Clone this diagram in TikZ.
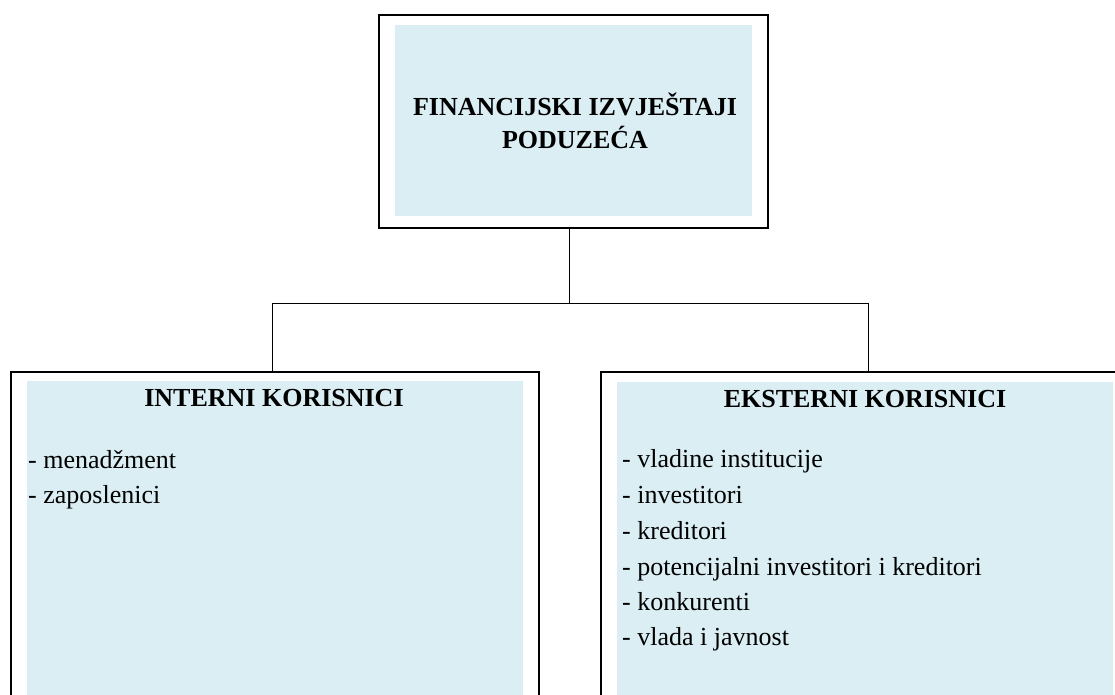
\documentclass[tikz,border=0pt]{standalone}
\usepackage{fontspec}
\setmainfont{Liberation Serif}
\definecolor{boxfill}{HTML}{DAEEF3}
\begin{document}
\begin{tikzpicture}[x=1pt,y=-1pt,
  outerbox/.style={draw=black, line width=2pt, fill=white, inner sep=0pt, anchor=north west},
  innerbox/.style={fill=boxfill, draw=none, inner sep=0pt, anchor=north west},
  conn/.style={draw=black, line width=1pt},
  titletext/.style={font=\fontsize{26}{31}\selectfont\bfseries, inner sep=0pt, anchor=base},
  itemtext/.style={font=\fontsize{26}{31}\selectfont, inner sep=0pt, anchor=base west}]
\useasboundingbox (0,0) rectangle (1115,694);
\clip (0,0) rectangle (1115,694);
% boxes
\node[outerbox, minimum width=389pt, minimum height=213pt] (top) at (378,14) {};
\node[innerbox, minimum width=357pt, minimum height=191pt] (topfill) at (395,25) {};
\node[outerbox, minimum width=528pt, minimum height=400pt] (left) at (10,371) {};
\node[innerbox, minimum width=496pt, minimum height=400pt] (leftfill) at (27,381) {};
\node[outerbox, minimum width=529pt, minimum height=400pt] (right) at (600,371) {};
\node[innerbox, minimum width=496pt, minimum height=400pt] (rightfill) at (617,382) {};
% connectors
\coordinate (bus) at (569,303);
\coordinate (lt) at (272,303);
\coordinate (rt) at (868,303);
\draw[conn] (bus |- top.south) -- (bus);
\draw[conn] (lt |- left.north) -- (lt) -- (rt) -- (rt |- right.north);
% titles
\node[titletext] (t1) at (575,115) {FINANCIJSKI IZVJEŠTAJI};
\node[titletext] (t2) at (575,148) {PODUZEĆA};
\node[titletext] (lt1) at (274,406) {INTERNI KORISNICI};
\node[titletext] (rt1) at (865,407) {EKSTERNI KORISNICI};
% items
\node[itemtext] (l1) at (28,468) {- menadžment};
\node[itemtext] (l2) at (28,503) {- zaposlenici};
\node[itemtext] (r1) at (622,467) {- vladine institucije};
\node[itemtext] (r2) at (622,503) {- investitori};
\node[itemtext] (r3) at (622,539) {- kreditori};
\node[itemtext] (r4) at (622,575) {- potencijalni investitori i kreditori};
\node[itemtext] (r5) at (622,610) {- konkurenti};
\node[itemtext] (r6) at (622,645) {- vlada i javnost};
\end{tikzpicture}
\end{document}
